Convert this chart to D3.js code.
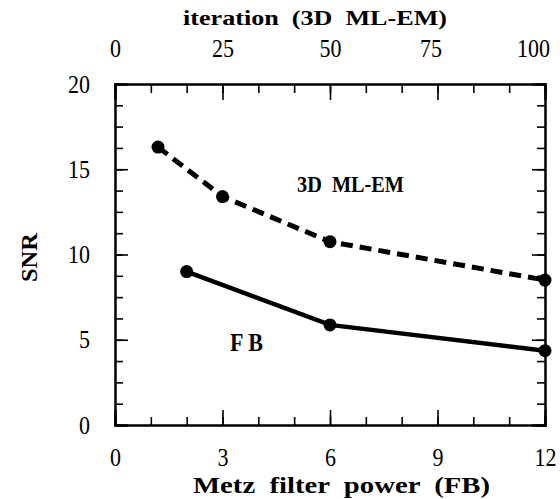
<script src="https://d3js.org/d3.v7.min.js"></script>

<style>
  body { margin: 0; background: #fff; }
  svg text { font-family: "Liberation Serif" !important; fill: #000; }
  .axis .domain { stroke: #000; stroke-width: 2; }
  .axis line { stroke: #000; stroke-width: 1.6; }
  .axis text { font-size: 25px; }
  .lbl { font-weight: bold; white-space: pre; }
</style>

<svg id="chart"></svg>

<script>
// values
const metzTicks = [0, 3, 6, 9, 12];
const iterTicks = [0, 25, 50, 75, 100];
const snrTicks  = [0, 5, 10, 15, 20];

const emIter = [10, 25, 50, 100];          // 3D ML-EM, top axis
const emSNR  = [16.3, 13.4, 10.75, 8.5];
const fbPower = [2, 6, 12];                // FB, bottom axis
const fbSNR   = [9.0, 5.87, 4.36];

const WIDTH  = 560;
const HEIGHT = 499;
const MARGIN = { top: 84, right: 15, bottom: 74, left: 115 };
const INNER_WIDTH  = WIDTH - MARGIN.left - MARGIN.right;
const INNER_HEIGHT = HEIGHT - MARGIN.top - MARGIN.bottom;
const SERIF = 'Liberation Serif';
const DIGIT_W = 11;   // scanned digits are narrow

const svg = d3.select('#chart')
  .attr('width', WIDTH)
  .attr('height', HEIGHT)
  .attr('font-family', SERIF)
  .append('g')
    .attr('transform', 'translate(' + MARGIN.left + ',' + MARGIN.top + ')');

var metz = d3.scaleLinear().domain([0, 12]).range([0, INNER_WIDTH]);
var iter = d3.scaleLinear().domain([0, 100]).range([0, INNER_WIDTH]);
var snr  = d3.scaleLinear().domain([0, 20]).range([INNER_HEIGHT, 0]);

const minorX = d3.range(0, 13, 1);
const minorY = d3.range(0, 20.01, 1.25);

function narrow(sel) {
  sel.attr('font-family', SERIF)
    .attr('textLength', d => String(d).length * DIGIT_W)
    .attr('lengthAdjust', 'spacingAndGlyphs');
}

// minor ticks, all pointing inward
svg.append('g').attr('class', 'axis')
  .attr('transform', 'translate(0,' + INNER_HEIGHT + ')')
  .call(d3.axisBottom(metz).tickValues(minorX).tickSize(-8).tickFormat(''));
svg.append('g').attr('class', 'axis')
  .call(d3.axisTop(metz).tickValues(minorX).tickSize(-9).tickFormat(''));
svg.append('g').attr('class', 'axis')
  .call(d3.axisLeft(snr).tickValues(minorY).tickSize(-8).tickFormat(''));
svg.append('g').attr('class', 'axis')
  .attr('transform', 'translate(' + INNER_WIDTH + ',0)')
  .call(d3.axisRight(snr).tickValues(minorY).tickSize(-8).tickFormat(''));

// major ticks with labels
svg.append('g').attr('class', 'axis')
  .attr('transform', 'translate(0,' + INNER_HEIGHT + ')')
  .call(d3.axisBottom(metz).tickValues(metzTicks).tickSize(-15))
  .call(g => g.selectAll('text').attr('y', 41).attr('dy', 0).call(narrow));
svg.append('g').attr('class', 'axis')
  .call(d3.axisTop(iter).tickValues(iterTicks).tickSize(-16))
  .call(g => g.selectAll('text').attr('y', -27).attr('dy', 0).call(narrow)
    .attr('dx', d => d == 100 ? -12 : d == 75 ? -7 : 0));
svg.append('g').attr('class', 'axis')
  .call(d3.axisLeft(snr).tickValues(snrTicks).tickSize(-13).tickPadding(25))
  .call(g => g.selectAll('text').call(narrow));
svg.append('g').attr('class', 'axis')
  .attr('transform', 'translate(' + INNER_WIDTH + ',0)')
  .call(d3.axisRight(snr).tickValues(snrTicks).tickSize(-13).tickFormat(''));

// 3D ML-EM, dashed, against iteration axis
var emLine = d3.line().x(d => iter(d[0])).y(d => snr(d[1]));
var emData = emIter.map((v, i) => [v, emSNR[i]]);
svg.append('path')
  .datum(emData)
  .attr('d', emLine)
  .attr('fill', 'none')
  .attr('stroke', '#000')
  .attr('stroke-width', 5)
  .attr('stroke-dasharray', '12,7');
svg.selectAll('.em')
  .data(emData)
  .enter().append('circle')
    .attr('cx', d => iter(d[0]))
    .attr('cy', d => snr(d[1]))
    .attr('r', 6.5);

// FB, solid, against Metz axis
var fbLine = d3.line().x(d => metz(d[0])).y(d => snr(d[1]));
var fbData = fbPower.map((v, i) => [v, fbSNR[i]]);
svg.append('path')
  .datum(fbData)
  .attr('d', fbLine)
  .attr('fill', 'none')
  .attr('stroke', '#000')
  .attr('stroke-width', 4.5);
svg.selectAll('.fb')
  .data(fbData)
  .enter().append('circle')
    .attr('cx', d => metz(d[0]))
    .attr('cy', d => snr(d[1]))
    .attr('r', 6.5);

// bold labels squeezed to the widths seen in the scan
function label(txt, x, y, size, w) {
  return svg.append('text').attr('class', 'lbl')
    .attr('x', x).attr('y', y)
    .attr('font-size', size)
    .attr('textLength', w)
    .attr('lengthAdjust', 'spacingAndGlyphs')
    .text(txt);
}
label('3D  ML-EM', 182, 108, 24, 107);
label('F B', 115, 267, 25, 33);
label('iteration  (3D  ML-EM)', 68, -59, 22, 264);
label('Metz  filter  power  (FB)', 78, 409, 23, 297);

svg.append('text').attr('class', 'lbl')
  .attr('transform', 'rotate(-90)')
  .attr('x', -198).attr('y', -78)
  .attr('font-size', 24)
  .attr('textLength', 49)
  .attr('lengthAdjust', 'spacingAndGlyphs')
  .text('SNR');
</script>
